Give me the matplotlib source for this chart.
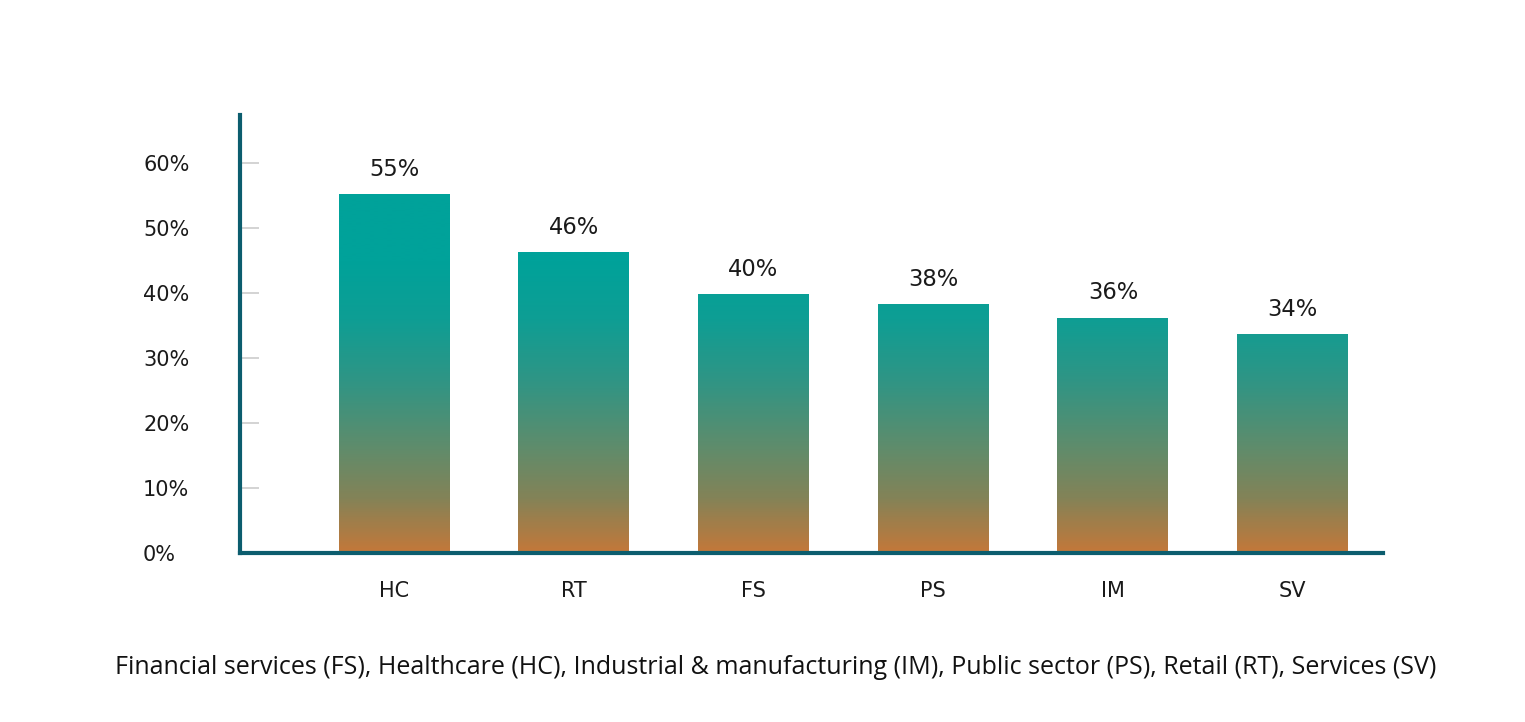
import matplotlib
matplotlib.use("Agg")
import matplotlib.pyplot as plt
import numpy as np
from matplotlib.colors import LinearSegmentedColormap

categories = ["HC", "RT", "FS", "PS", "IM", "SV"]
values = [55.2, 46.3, 39.8, 38.3, 36.2, 33.7]
value_labels = ["55%", "46%", "40%", "38%", "36%", "34%"]
yticks = [0, 10, 20, 30, 40, 50, 60]
ytick_labels = ["0%", "10%", "20%", "30%", "40%", "50%", "60%"]
caption = ("Financial services (FS), Healthcare (HC), Industrial & manufacturing (IM), "
           "Public sector (PS), Retail (RT), Services (SV)")

W, H, DPI = 1525, 722, 100
fig = plt.figure(figsize=(W / DPI, H / DPI), dpi=DPI)
fig.patch.set_facecolor("white")

ax_left, ax_right, ax_bottom, ax_top = 240, 1383, 553, 115
ax = fig.add_axes([ax_left / W, 1 - ax_bottom / H, (ax_right - ax_left) / W, (ax_bottom - ax_top) / H])

ymax = 67.4
x = np.arange(len(categories))
ax.set_xlim(-0.858, 5.503)
ax.set_ylim(0, ymax)

bars = ax.bar(x, values, width=0.617, color="none", edgecolor="none", zorder=2)

ymid = 45.0
cmap = LinearSegmentedColormap.from_list(
    "grad",
    [(0.0, "#C3783A"), (8.6 / ymid, "#828358"), (16 / ymid, "#608C6B"),
     (26.6 / ymid, "#2F9585"), (36 / ymid, "#0E9E94"), (1.0, "#00A29A")])
grad = np.linspace(0, ymax / ymid, 400).reshape(-1, 1)
grad = np.clip(grad, 0, 1)
for b in bars:
    im = ax.imshow(grad, cmap=cmap, vmin=0, vmax=1, origin="lower", aspect="auto",
                   extent=(-0.858, 5.503, 0, ymax), zorder=2, interpolation="bilinear")
    im.set_clip_path(b)
ax.set_xlim(-0.858, 5.503)
ax.set_ylim(0, ymax)

for b, lab in zip(bars, value_labels):
    ax.annotate(lab, (b.get_x() + b.get_width() / 2, b.get_height()),
                xytext=(0, 18), textcoords="offset points", ha="center", va="center",
                fontsize=16.3, color="#1a1a1a", family="DejaVu Sans")

spine_col = "#0C5D6E"
for s in ["top", "right"]:
    ax.spines[s].set_visible(False)
ax.spines["left"].set_color(spine_col)
ax.spines["left"].set_linewidth(3)
ax.spines["bottom"].set_color(spine_col)
ax.spines["bottom"].set_linewidth(3)
ax.spines["bottom"].set_zorder(5)
ax.spines["left"].set_zorder(5)

ax.set_yticks(yticks)
ax.set_yticklabels(ytick_labels)
ax.tick_params(axis="y", direction="in", length=14, width=1.3, color="#D0D0D0",
               pad=69.8, labelsize=15, labelcolor="#1a1a1a")
for t in ax.get_yticklabels():
    t.set_horizontalalignment("left")
ax.set_xticks(x)
ax.set_xticklabels(categories)
ax.tick_params(axis="x", length=0, pad=20.5, labelsize=15, labelcolor="#1a1a1a")

cap = fig.text(115 / W, 1 - 667 / H, caption, ha="left", va="center",
               fontsize=18, family="Open Sans", color="#111111")
fig.canvas.draw()
bb = cap.get_window_extent()
cap.set_fontsize(18 * (1322 / bb.width))

fig.savefig("out.png", dpi=DPI, facecolor="white")
